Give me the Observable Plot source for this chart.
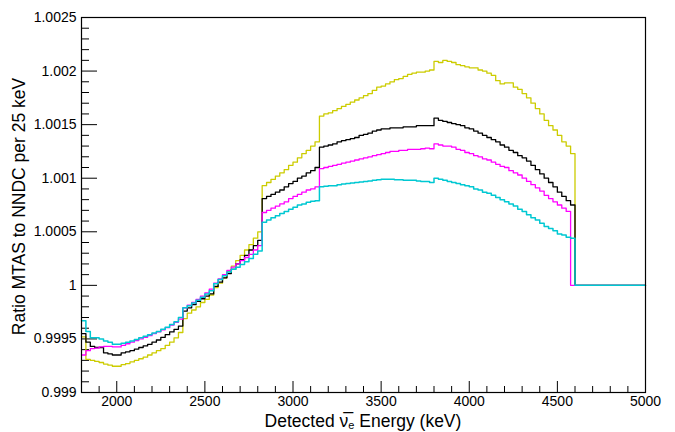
<!DOCTYPE html>
<html><head><meta charset="utf-8">
<script src="https://cdn.jsdelivr.net/npm/d3@7"></script>
<script src="https://cdn.jsdelivr.net/npm/@observablehq/plot@0.6"></script>
<style>body{margin:0;background:#fff} svg{display:block}</style>
</head><body><div id="chart"></div>
<script>
// 25 keV bins, lower edges 1800 ... 4975 (128 bins), upper edge of last bin 5000
const binLow = d3.range(1800, 5000, 25);
const xEnd = 5000;

const yellowRatio = [
0.99952,0.99931,0.9993,0.99929,0.99928,0.999265,0.999255,0.999245,0.999245,0.99926,0.99927,0.999285,0.9993,0.999315,0.99933,0.99935,0.99937,0.99939,0.99941,0.99944,0.99947,0.99951,0.99956,
0.99969,0.99974,0.99977,0.9998,0.99984,0.99987,0.99991,
0.99998,1.00002,1.00007,1.00013,1.00018,1.00023,1.00028,1.00033,1.00038,1.00044,1.0005,
1.00093,1.00096,1.00099,1.00102,1.00105,1.00108,1.00112,1.00115,1.00119,1.00123,1.00126,1.0013,1.00134,
1.00158,1.0016,1.00161,1.00163,1.00165,1.00167,1.00169,1.00171,1.00173,1.00175,1.00177,1.00179,1.00182,1.00185,1.00186,1.00188,1.0019,1.00192,1.00193,1.00195,1.00197,1.00198,1.00199,1.00199,1.002,1.00201,
1.00209,1.00208,1.0021,1.00209,1.00208,1.00206,1.00205,1.00204,1.00203,1.00203,1.00201,1.002,1.00198,1.00196,1.00191,1.00188,1.00189,1.00189,1.00185,1.00183,1.00179,1.00175,1.0017,1.00165,1.0016,1.00154,1.00149,1.00145,1.0014,1.00134,1.0013,1.00123,
1,1,1,1,1,1,1,1,1,1,1,1,1,1,1,1];

const blackRatio = [
0.99955,0.99947,0.99943,0.99942,0.99942,0.99937,0.99936,0.99935,0.99935,0.99937,0.99938,0.99939,0.999405,0.99942,0.999435,0.99945,0.99947,0.99949,0.999515,0.99954,0.999565,0.99959,0.99962,
0.99976,0.99979,0.99982,0.99985,0.999875,0.9999,0.99992,
0.99999,1.00003,1.00007,1.00011,1.00015,1.0002,1.00024,1.00028,1.00033,1.00037,1.00042,
1.00081,1.00083,1.00085,1.00087,1.00089,1.00092,1.00095,1.00097,1.001,1.00102,1.00105,1.00107,1.0011,
1.00129,1.0013,1.00131,1.00132,1.00134,1.00135,1.00136,1.00137,1.00138,1.0014,1.00141,1.00142,1.00144,1.00145,1.00146,1.00146,1.00147,1.00147,1.00147,1.00148,1.00148,1.00148,1.00149,1.00149,1.00149,1.00149,
1.00156,1.00154,1.00153,1.00152,1.00151,1.0015,1.00149,1.00147,1.00146,1.00144,1.00142,1.0014,1.00138,1.00136,1.00134,1.00131,1.00129,1.00126,1.00124,1.00121,1.00119,1.00116,1.00112,1.00108,1.00104,1.001,1.00096,1.00092,1.00087,1.00083,1.00079,1.00075,
1,1,1,1,1,1,1,1,1,1,1,1,1,1,1,1];

const magentaRatio = [
0.99935,0.99939,0.99941,0.999415,0.999425,0.99943,0.99943,0.999425,0.999425,0.99944,0.999455,0.99947,0.999485,0.9995,0.999515,0.99953,0.99955,0.999565,0.999585,0.999605,0.99963,0.999655,0.999685,
0.99979,0.999815,0.99984,0.99987,0.9999,0.99993,0.999965,
1.00002,1.00006,1.0001,1.00014,1.00017,1.0002,1.00023,1.00026,1.00029,1.00033,1.00037,
1.00068,1.0007,1.00072,1.00074,1.00076,1.00078,1.00081,1.00083,1.00085,1.00087,1.00089,1.0009,1.00092,
1.00109,1.0011,1.00111,1.00112,1.00113,1.00114,1.00115,1.00116,1.00117,1.00118,1.00119,1.0012,1.00121,1.00122,1.00123,1.00124,1.00125,1.00125,1.00126,1.00126,1.00127,1.00127,1.00127,1.001275,1.00128,1.001275,
1.00132,1.00131,1.0013,1.0013,1.00129,1.00127,1.00126,1.00124,1.00123,1.00121,1.0012,1.00118,1.00117,1.00115,1.00113,1.00111,1.0011,1.00107,1.00105,1.00103,1.001,1.00097,1.00094,1.00091,1.00088,1.00084,1.00081,1.00078,1.00075,1.00072,1.00069,1,
1,1,1,1,1,1,1,1,1,1,1,1,1,1,1,1];

const cyanRatio = [
0.99967,0.99957,0.99951,0.99951,0.9995,0.99948,0.99947,0.99945,0.99945,0.99946,0.99947,0.99948,0.999495,0.99951,0.999525,0.99954,0.999555,0.99957,0.99959,0.99961,0.999635,0.99966,0.9997,
0.99979,0.99981,0.999835,0.99986,0.99989,0.99992,0.99995,
1.000015,1.000055,1.00009,1.000125,1.00015,1.00017,1.000195,1.00022,1.00025,1.00029,1.00032,
1.00059,1.00061,1.00063,1.00065,1.00067,1.00069,1.00071,1.00073,1.00075,1.00076,1.000775,1.000785,1.00079,
1.00092,1.000925,1.00093,1.00093,1.00094,1.000945,1.00095,1.000955,1.00096,1.000965,1.00097,1.000975,1.00098,1.000985,1.00099,1.00099,1.00099,1.000985,1.000985,1.00098,1.00098,1.00098,1.000975,1.00097,1.00097,1.00096,
1.001,1.00099,1.00098,1.00097,1.00096,1.00095,1.00094,1.00093,1.00092,1.0009,1.00089,1.00087,1.00086,1.00084,1.00082,1.0008,1.00078,1.00076,1.00074,1.00071,1.00069,1.00066,1.00063,1.00061,1.00058,1.00055,1.00053,1.00051,1.00048,1.00047,1.00045,1.00044,
1,1,1,1,1,1,1,1,1,1,1,1,1,1,1,1];

const seriesNames = ["yellow", "black", "magenta", "cyan"];
const seriesColors = ["#cccc00", "#000000", "#ff00ff", "#00c8d2"];
const seriesWidths = [1.3, 1.3, 1.3, 1.5];

const xMajorTicks = [2000, 2500, 3000, 3500, 4000, 4500, 5000];
const xMinorTicks = d3.range(1900, 5000, 100).filter(v => v % 500 !== 0);
const yMajorTicks = [0.999, 0.9995, 1, 1.0005, 1.001, 1.0015, 1.002, 1.0025];
const yTickLabels = ["0.999", "0.9995", "1", "1.0005", "1.001", "1.0015", "1.002", "1.0025"];
const yMinorTicks = d3.range(1, 35).filter(i => i % 5 !== 0).map(i => +(0.999 + i * 0.0001).toFixed(4));

const yTitle = "Ratio MTAS to NNDC per 25 keV";

const W = 675, H = 432;
const mL = 81, mR = 30, mT = 17, mB = 40;
const innerW = W - mL - mR, innerH = H - mT - mB;

function stepPoints(vals, name) {
  const pts = binLow.map((e, i) => ({x: e, y: vals[i], s: name}));
  pts.push({x: xEnd, y: vals[vals.length - 1], s: name});
  return pts;
}
const allSeries = [yellowRatio, blackRatio, magentaRatio, cyanRatio];

const marks = [
  Plot.tickY(yMajorTicks, {y: d => d, insetRight: innerW - 16, stroke: "black", strokeWidth: 1}),
  Plot.tickY(yMinorTicks, {y: d => d, insetRight: innerW - 8, stroke: "black", strokeWidth: 1}),
  Plot.tickX(xMajorTicks, {x: d => d, insetTop: innerH - 11, stroke: "black", strokeWidth: 1}),
  Plot.tickX(xMinorTicks, {x: d => d, insetTop: innerH - 6, stroke: "black", strokeWidth: 1}),
  ...allSeries.map((vals, k) => Plot.line(stepPoints(vals, seriesNames[k]), {
    x: "x", y: "y", curve: "step-after", stroke: seriesColors[k], strokeWidth: seriesWidths[k]
  })),
  Plot.frame({stroke: "black", strokeWidth: 1.2}),
  Plot.axisY({ticks: yMajorTicks, tickSize: 0, tickPadding: 5,
    tickFormat: d => yTickLabels[yMajorTicks.indexOf(d)], label: null}),
  Plot.axisX({ticks: xMajorTicks, tickSize: 0, tickPadding: 4, tickFormat: d => String(d), label: null})
];

const chart = Plot.plot({
  width: W, height: H,
  marginLeft: mL, marginRight: mR, marginTop: mT, marginBottom: mB,
  x: {domain: [1800, 5000]},
  y: {domain: [0.999, 1.0025]},
  style: {fontFamily: "'Liberation Sans', Arial, Helvetica, sans-serif", fontSize: "14px", color: "#000", background: "#fff"},
  marks
});
document.getElementById("chart").appendChild(chart);

const svg = d3.select(chart);
svg.append("text")
  .attr("transform", `translate(20,${mT + innerH / 2 + 2}) rotate(-90)`)
  .attr("text-anchor", "middle")
  .attr("dominant-baseline", "middle")
  .attr("font-size", 17.5)
  .attr("fill", "#000")
  .text(yTitle);

const xt = svg.append("text")
  .attr("x", mL + innerW / 2)
  .attr("y", 427)
  .attr("text-anchor", "middle")
  .attr("font-size", 17.5)
  .attr("fill", "#000");
xt.append("tspan").text("Detected ");
xt.append("tspan").text("\u03BD\u0305");
xt.append("tspan").attr("font-size", 11).attr("dy", 2).text("e");
xt.append("tspan").attr("dy", -2).text(" Energy (keV)");
</script>
</body></html>
